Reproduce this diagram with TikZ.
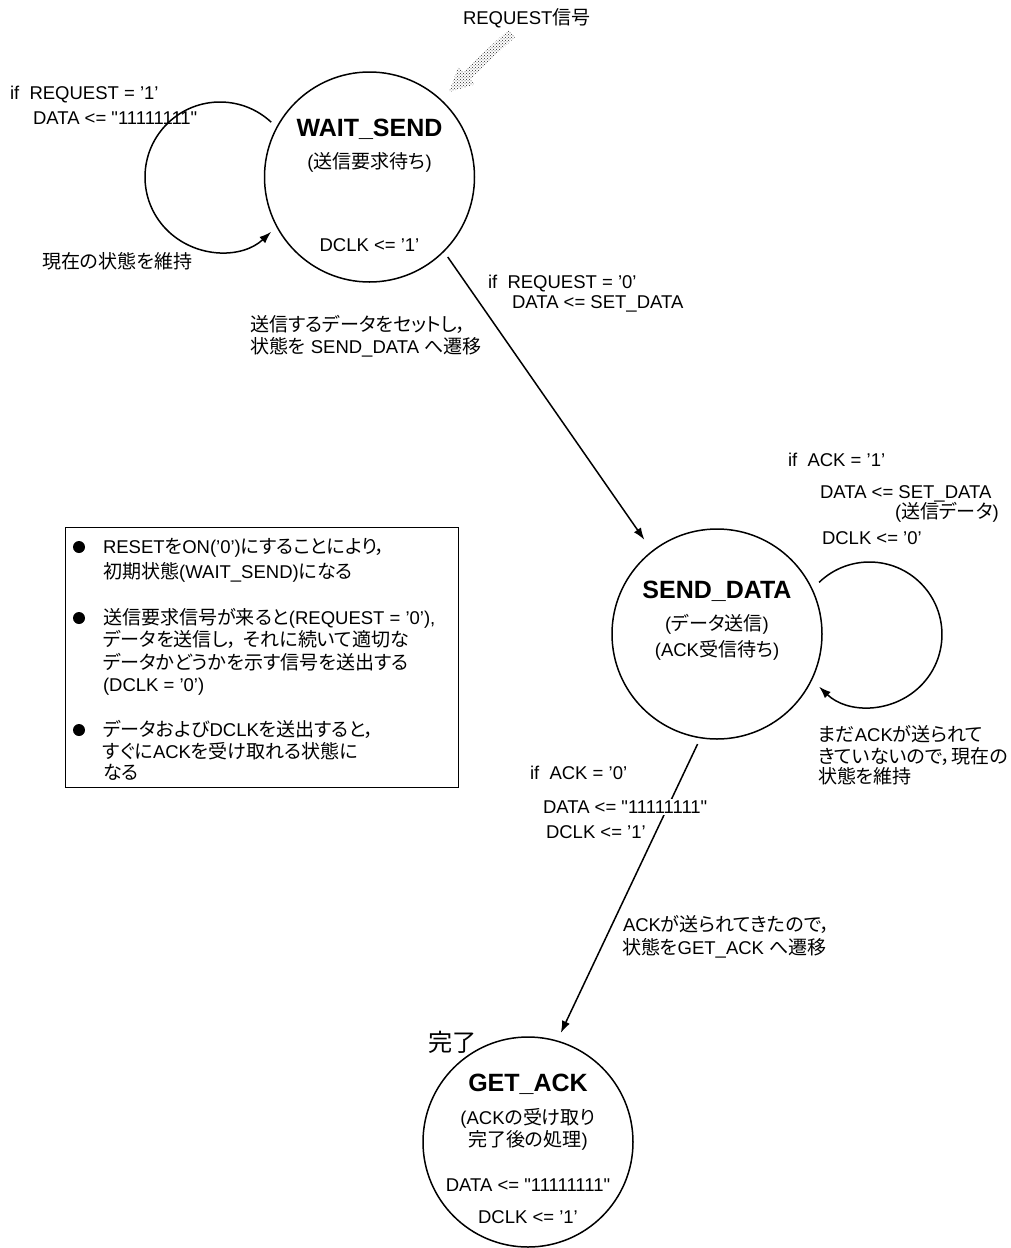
\documentclass[tikz,border=0pt]{standalone}
\usepackage{fontspec}
\setmainfont{Liberation Sans}[Ligatures=TeXOff]
\newfontfamily\jpfont{Noto Sans CJK JP}[Scale=1.03, RawFeature=+palt]
\newcommand\J[1]{{\jpfont #1}}
\usetikzlibrary{arrows.meta,patterns}
\begin{document}
\begin{tikzpicture}[x=1pt,y=1pt,
  every node/.style={inner sep=0pt, outer sep=0pt},
  txt/.style={anchor=base west, font=\fontsize{18.5}{21}\selectfont},
  ctxt/.style={anchor=base, font=\fontsize{18.5}{21}\selectfont},
  titletxt/.style={anchor=base, font=\fontsize{25}{30}\selectfont\bfseries},
  statenode/.style={circle, draw, line width=1.5pt, minimum size=210pt},
  conn/.style={line width=1.5pt, -{Latex[length=12pt,width=8.5pt]}},
  bulletdot/.style={circle, fill, minimum size=12pt},
]
\useasboundingbox (0,0) rectangle (1010,-1248);
\fill[white] (0,0) rectangle (1010,-1248);

% states
\node[statenode] (ws) at (369.5,-177) {};
\node[statenode] (sd) at (717,-634) {};
\node[statenode] (ga) at (528,-1142) {};

% external request signal arrow
\node[txt] (req) at (463,-24.5) {REQUEST\J{信号}};
\fill[pattern=crosshatch dots, pattern color=black!85]
  (515.4,-36.65) -- (469.9,-79.25) -- (474.7,-84.4) -- (449,-92) --
  (458.3,-66.8) -- (463.1,-71.95) -- (508.6,-29.35) -- cycle;

% connectors
\draw[conn, shorten <=7pt, shorten >=14pt] (ws.-45) -- (sd.128);
\draw[conn, shorten <=7pt, shorten >=9pt] (sd.261) -- (ga.74);
\coordinate (l1s) at (271.15,-122.15);
\draw[conn] (l1s) arc[start angle=47, end angle=313, radius=75];
\coordinate (l2s) at (819.1,-582.35);
\draw[conn] (l2s) arc[start angle=134, end angle=-134, radius=72.5];

% WAIT_SEND
\node[titletxt] (wst) at (369.5,-136) {WAIT\_SEND};
\node[ctxt] (wss) at (369.5,-168.5) {(\J{送信要求待ち})};
\node[ctxt] (wsd) at (369.5,-251.5) {DCLK <= ’1’};

\node[txt] (l1a) at (10,-99.5) {if\ \ REQUEST = ’1’};
\node[txt] (l1b) at (33,-124.5) {DATA <= "11111111"};
\node[txt] (l1c) at (42,-268.5) {\J{現在の状態を維持}};

\node[txt] (t1a) at (488,-288.5) {if\ \ REQUEST = ’0’};
\node[txt] (t1b) at (512,-308.5) {DATA <= SET\_DATA};
\node[txt] (t1c) at (250,-331.5) {\J{送信するデータをセットし，}};
\node[txt] (t1d) at (250,-353.5) {\J{状態を} SEND\_DATA \J{へ遷移}};

% SEND_DATA
\node[txt] (l2a) at (788,-466.5) {if\ \ ACK = ’1’};
\node[txt] (l2b) at (820,-498.5) {DATA <= SET\_DATA};
\node[txt] (l2c) at (895,-518.5) {(\J{送信データ})};
\node[txt] (l2d) at (822,-544.5) {DCLK <= ’0’};

\node[titletxt] (sdt) at (717,-598) {SEND\_DATA};
\node[ctxt] (sds1) at (717,-630.5) {(\J{データ送信})};
\node[ctxt] (sds2) at (717,-656.5) {(ACK\J{受信待ち})};

\node[txt] (l2e) at (818,-741.5) {\J{まだ}ACK\J{が送られて}};
\node[txt] (l2f) at (818,-763.5) {\J{きていないので，現在の}};
\node[txt] (l2g) at (818,-783.5) {\J{状態を維持}};

\node[txt] (t2a) at (530,-779.5) {if\ \ ACK = ’0’};
\node[txt, fill=white, inner ysep=1.5pt] (t2b) at (543,-813.5) {DATA <= "11111111"};
\node[txt] (t2c) at (546,-838.5) {DCLK <= ’1’};
\node[txt] (t2d) at (623,-931.5) {ACK\J{が送られてきたので，}};
\node[txt] (t2e) at (622,-954.5) {\J{状態を}GET\_ACK \J{へ遷移}};

% GET_ACK
\node[anchor=base west, font=\fontsize{23.5}{28}\selectfont] (done) at (428,-1051.5) {\J{完了}};
\node[titletxt] (gat) at (528,-1091) {GET\_ACK};
\node[ctxt] (gas1) at (528,-1124.5) {(ACK\J{の受け取り}};
\node[ctxt] (gas2) at (528,-1146.5) {\J{完了後の処理})};
\node[ctxt] (gad) at (528,-1191.5) {DATA <= "11111111"};
\node[ctxt] (gac) at (528,-1223.5) {DCLK <= ’1’};

% note box
\node[draw, line width=1pt, minimum width=393pt, minimum height=260pt] (note) at (261.5,-657) {};
\node[bulletdot] (b1) at (79,-547) {};
\node[bulletdot] (b2) at (79,-618) {};
\node[bulletdot] (b3) at (79,-730) {};
\node[txt] (n1) at (103,-553.5) {RESET\J{を}ON(’0’)\J{にすることにより，}};
\node[txt] (n2) at (103,-578.5) {\J{初期状態}(WAIT\_SEND)\J{になる}};
\node[txt] (n3) at (103,-624.5) {\J{送信要求信号が来ると}(REQUEST = ’0’),};
\node[txt] (n4) at (103,-646.5) {\J{データを送信し，\hspace{6pt}それに続いて適切な}};
\node[txt] (n5) at (103,-669.5) {\J{データかどうかを示す信号を送出する}};
\node[txt] (n6) at (103,-691.5) {(DCLK = ’0’)};
\node[txt] (n7) at (103,-736.5) {\J{データおよび}DCLK\J{を送出すると，}};
\node[txt] (n8) at (103,-758.5) {\J{すぐに}ACK\J{を受け取れる状態に}};
\node[txt] (n9) at (103,-779.5) {\J{なる}};
\end{tikzpicture}
\end{document}
